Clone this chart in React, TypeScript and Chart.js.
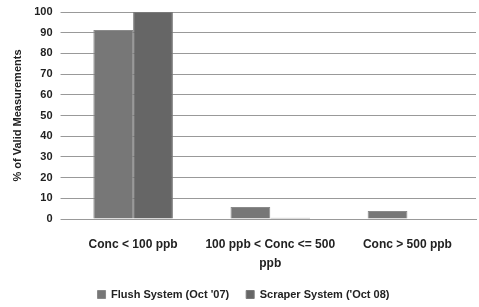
import React, { useEffect, useRef } from "react";
import { Chart, registerables } from "chart.js";

Chart.register(...registerables);

const categories: (string | string[])[] = [
  "Conc < 100 ppb",
  ["100 ppb < Conc <= 500", "ppb"],
  "Conc > 500 ppb",
];
const flushValues = [91.3, 5.8, 3.9];
const scraperValues = [100, 0.6, 0];
const seriesNames = ["Flush System (Oct '07)", "Scraper System ('Oct 08)"];
const yTicks = [0, 10, 20, 30, 40, 50, 60, 70, 80, 90, 100];
const yTitle = "% of Valid Measurements";

const FONT = "'Liberation Sans Narrow', 'Arial Narrow', 'Liberation Sans', sans-serif";

export default function App() {
  const ref = useRef<HTMLCanvasElement | null>(null);
  useEffect(() => {
    document.body.style.margin = "0";
    const ctx = ref.current!.getContext("2d")!;
    const chart = new Chart(ctx, {
      type: "bar",
      data: {
        labels: categories,
        datasets: [
          {
            label: seriesNames[0],
            data: flushValues,
            backgroundColor: "#777777",
            borderColor: "#8a8a8a",
            borderWidth: 1,
            categoryPercentage: 0.58,
            barPercentage: 1,
          },
          {
            label: seriesNames[1],
            data: scraperValues,
            backgroundColor: "#666666",
            borderColor: "#7a7a7a",
            borderWidth: 1,
            categoryPercentage: 0.58,
            barPercentage: 1,
          },
        ],
      },
      options: {
        responsive: false,
        animation: false,
        layout: { padding: { top: 12, right: 3, left: 11, bottom: -3 } },
        plugins: {
          tooltip: { enabled: false },
          legend: {
            position: "bottom",
            labels: {
              boxWidth: 8,
              boxHeight: 8,
              color: "#222",
              padding: 17,
              font: { family: FONT, size: 11, weight: "bold" },
            },
          },
        },
        scales: {
          x: {
            afterFit: (scale: any) => {
              scale.height = 53;
            },
            grid: { display: false, drawTicks: true, tickLength: 4 },
            border: { display: true, color: "#999" },
            ticks: {
              color: "#222",
              padding: 12,
              font: { family: FONT, size: 12, weight: "bold", lineHeight: 1.6 },
              maxRotation: 0,
            },
          },
          y: {
            min: 0,
            max: 100,
            afterBuildTicks: (axis: any) => {
              axis.ticks = yTicks.map((v) => ({ value: v }));
            },
            afterFit: (scale: any) => {
              scale.paddingTop = 0;
              scale.paddingBottom = 0;
            },
            grid: { color: "#999", tickLength: 4 },
            border: { display: false },
            ticks: {
              color: "#222",
              padding: 8,
              font: { family: FONT, size: 11, weight: "bold" },
            },
            title: {
              display: true,
              text: yTitle,
              color: "#222",
              padding: { top: 0, bottom: 2 },
              font: { family: FONT, size: 11, weight: "bold" },
            },
          },
        },
      },
    });
    return () => chart.destroy();
  }, []);
  return (
    <div style={{ position: "absolute", left: 0, top: 0, width: 479, height: 307 }}>
      <canvas ref={ref} width={479} height={307} style={{ width: 479, height: 307 }} />
    </div>
  );
}
